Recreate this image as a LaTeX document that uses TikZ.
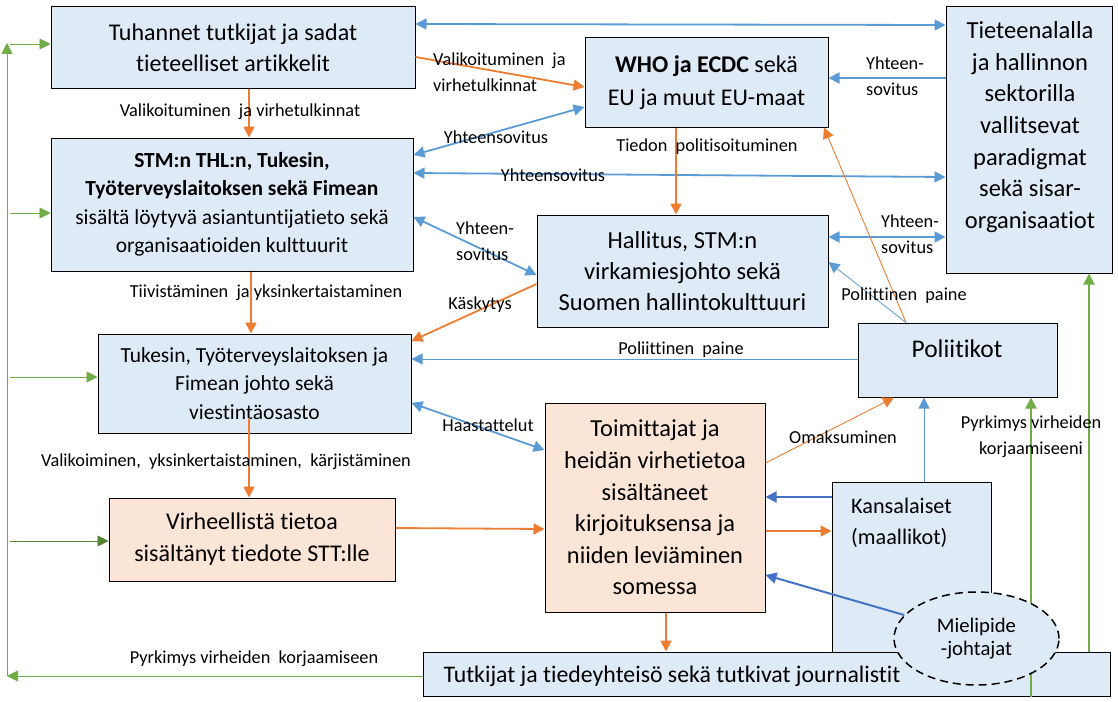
\documentclass[tikz,border=0pt]{standalone}
\usepackage{fontspec}
\setmainfont{Carlito}[Ligatures=NoCommon]
\usetikzlibrary{arrows.meta,calc,shapes.geometric}
\definecolor{boxblue}{HTML}{DEEBF7}
\definecolor{boxsalmon}{HTML}{FBE5D6}
\definecolor{cblue}{HTML}{5B9BD5}
\definecolor{cdblue}{HTML}{4472C4}
\definecolor{corange}{HTML}{ED7D31}
\definecolor{cgreen}{HTML}{70AD47}
\definecolor{cdgreen}{HTML}{548235}
\newcommand{\setfs}[2]{\fontsize{#1}{#2}\selectfont}
\begin{document}
\begin{tikzpicture}[x=1pt,y=-1pt,
  >={Triangle[length=11pt,width=11pt]},
  box/.style={draw=black,line width=1pt,fill=boxblue,inner sep=0pt,align=center},
  sbox/.style={box,fill=boxsalmon},
  txt/.style={inner sep=0pt,align=center},
  lbl/.style={font=\setfs{18.3}{26},inner sep=0pt,align=center},
  bline/.style={draw=cblue,line width=1.8pt},
  bthin/.style={draw=cblue,line width=0.8pt},
  dbline/.style={draw=cdblue,line width=2pt},
  oline/.style={draw=corange,line width=1.8pt},
  othin/.style={draw=corange,line width=0.9pt},
  gline/.style={draw=cgreen,line width=0.9pt},
  gthick/.style={draw=cgreen,line width=2pt},
]
\useasboundingbox (0,0) rectangle (1118,701);

% boxes
\node[box,minimum width=364pt,minimum height=81pt,font=\setfs{24}{31}] (A) at (233,47.5) {Tuhannet tutkijat ja sadat\\tieteelliset artikkelit};
\node[box,minimum width=362pt,minimum height=133pt,font=\setfs{21.5}{28.5}] (B) at (232,204.5) {\textbf{STM:n THL:n, Tukesin,}\\\textbf{Työterveyslaitoksen sekä Fimean}\\sisältä löytyvä asiantuntijatieto sekä\\organisaatioiden kulttuurit};
\node[box,minimum width=243pt,minimum height=89pt,font=\setfs{24}{33}] (C) at (706.5,82.5) {\textbf{WHO ja ECDC} sekä\\EU ja muut EU-maat};
\node[box,minimum width=166pt,minimum height=266pt] (D) at (1029,140) {};
\node[txt,font=\setfs{24.5}{31.6}] (Dt) at (1030,127) {Tieteenalalla\\ja hallinnon\\sektorilla\\vallitsevat\\paradigmat\\sekä sisar-\\organisaatiot};
\node[box,minimum width=291pt,minimum height=112pt,font=\setfs{24.5}{31}] (E) at (682.5,271) {Hallitus, STM:n\\virkamiesjohto sekä\\Suomen hallintokulttuuri};
\node[box,minimum width=313pt,minimum height=99pt,font=\setfs{21.5}{28.5}] (F) at (254.5,383.5) {Tukesin, Työterveyslaitoksen ja\\Fimean johto sekä\\viestintäosasto};
\node[box,minimum width=199pt,minimum height=74pt] (G) at (957.5,360) {};
\node[txt,font=\setfs{25.5}{31}] (Gt) at (957,349) {Poliitikot};
\node[sbox,minimum width=286pt,minimum height=83pt,font=\setfs{24}{32}] (H) at (252,539.5) {Virheellistä tietoa\\sisältänyt tiedote STT:lle};
\node[sbox,minimum width=220pt,minimum height=209pt,font=\setfs{24.4}{31.6}] (I) at (655,507.5) {Toimittajat ja\\heidän virhetietoa\\sisältäneet\\kirjoituksensa ja\\niiden leviäminen\\somessa};
\node[box,minimum width=159pt,minimum height=188pt] (J) at (911.5,576) {};
\node[txt,align=left,anchor=west,font=\setfs{22.2}{31}] (Jt) at (851,522.5) {Kansalaiset\\(maallikot)};
\node[box,minimum width=687pt,minimum height=44pt] (K) at (766.5,674) {};
\node[txt,font=\setfs{23.8}{30}] (Kt) at (672,676) {Tutkijat ja tiedeyhteisö sekä tutkivat journalistit};
\draw[gthick,->] (K.south -| 1031,0) -- (G.south -| 1031,0);
\node[ellipse,draw=black,line width=1.5pt,dash pattern=on 8pt off 5pt,fill=boxblue,inner sep=0pt,minimum width=165pt,minimum height=93pt,align=center,font=\setfs{20.7}{23}] (L) at (976.5,638.5) {Mielipide\\-johtajat};

% connectors
\draw[bline,<->] (A.east |- 0,24) -- (D.west |- 0,25);
\draw[oline,->] (A.east |- 0,57) -- (C.west |- 0,87);
\draw[oline,->] (A.south -| 249,0) -- (B.north -| 249,0);
\draw[bline,->] (D.west |- 0,78) -- (C.east |- 0,78);
\draw[bline,<->] (B.east |- 0,155) -- (C.west |- 0,107);
\draw[bline,<->] (B.east |- 0,173) -- (D.west |- 0,177);
\draw[bline,<->] (B.east |- 0,217) -- (E.west |- 0,275);
\draw[oline,->] (C.south -| 676,0) -- (E.north -| 676,0);
\draw[bline,<->] (E.east |- 0,237) -- (D.west |- 0,237);
\draw[oline,->] (B.south -| 251,0) -- (F.north -| 251,0);
\draw[oline,->] (E.west |- 0,284) -- (F.east |- 0,341);
\draw[bthin,->] (G.north -| 906,0) -- (E.east |- 0,262);
\draw[othin,->] (G.north -| 906,0) -- (C.south -| 824,0);
\draw[bthin,->] (G.west |- 0,359) -- (F.east |- 0,359);
\draw[bline,<->] (F.east |- 0,403) -- (I.west |- 0,450);
\draw[oline,->] ($(F.south -| 249,0)+(0,-16)$) -- (H.north -| 249,0);
\draw[oline,->] (H.east |- 0,528) -- (I.west |- 0,529);
\draw[othin,->] (I.east |- 0,463) -- (G.south -| 894,0);
\draw[bthin,->] (J.north -| 924,0) -- (G.south -| 924,0);
\draw[dbline,->] (J.west |- 0,497) -- (I.east |- 0,497);
\draw[oline,->] (I.east |- 0,531) -- (J.west |- 0,531);
\draw[dbline,->] (L.162) -- (I.east |- 0,575);
\draw[oline,->] (I.south -| 666,0) -- (K.north -| 666,0);
\draw[gthick,->] (K.north -| 1089,0) -- (D.south -| 1089,0);

% green feedback on the left
\coordinate (gl) at (7,676);
\coordinate (gt) at (7,43);
\coordinate (ga) at (10,44);
\coordinate (gb) at (10,213);
\coordinate (gf) at (10,377);
\coordinate (gh) at (10,541);
\draw[gline,->] (K.west |- gl) -- (gl);
\draw[gline,->] (gl) -- (gt);
\draw[gline,->] (ga) -- (A.west |- ga);
\draw[gline,->] (gb) -- (B.west |- gb);
\draw[gline,->] (gf) -- (F.west |- gf);
\draw[gline,draw=cdgreen,->] (gh) -- (H.west |- gh);

% labels
\node[lbl] (l1) at (240,112) {Valikoituminen\ \ ja virhetulkinnat};
\node[lbl,anchor=west,align=left] (l2) at (433,72) {Valikoituminen\ \ ja\\virhetulkinnat};
\node[lbl] (l3) at (496,137) {Yhteensovitus};
\node[lbl] (l4) at (553,175) {Yhteensovitus};
\node[lbl,anchor=west,align=left] (l5) at (456,241) {Yhteen-\\sovitus};
\node[lbl,anchor=west,align=left] (l6) at (866,76) {Yhteen-\\sovitus};
\node[lbl] (l7) at (707,147) {Tiedon\ \ politisoituminen};
\node[lbl,anchor=west,align=left] (l8) at (881,234) {Yhteen-\\sovitus};
\node[lbl] (l9) at (266,293) {Tiivistäminen\ \ ja yksinkertaistaminen};
\node[lbl] (l10) at (480,305) {Käskytys};
\node[lbl] (l11) at (904,296) {Poliittinen\ \ paine};
\node[lbl] (l12) at (681,350) {Poliittinen\ \ paine};
\node[lbl] (l13) at (488,425) {Haastattelut};
\node[lbl] (l14) at (226,462) {Valikoiminen,\ \ yksinkertaistaminen,\ \ kärjistäminen};
\node[lbl] (l15) at (843,437) {Omaksuminen};
\node[lbl] (l16) at (1031,437) {Pyrkimys virheiden\\korjaamiseeni};
\node[lbl] (l17) at (254,659) {Pyrkimys virheiden\ \ korjaamiseen};
\end{tikzpicture}
\end{document}
